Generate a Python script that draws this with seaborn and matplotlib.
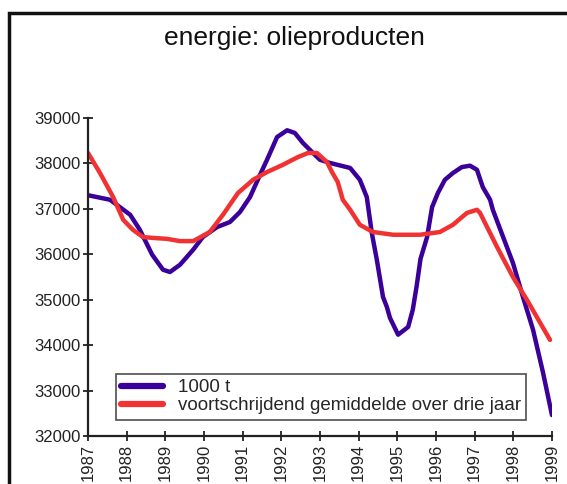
import seaborn as sns
import matplotlib.pyplot as plt
import pandas as pd
from matplotlib.patches import Rectangle

blue_year = [1987.00, 1987.57, 1988.09, 1988.34, 1988.66, 1988.94, 1989.12, 1989.38,
             1989.72, 1989.97, 1990.34, 1990.67, 1990.93, 1991.19, 1991.45, 1991.63,
             1991.89, 1992.15, 1992.35, 1992.56, 1992.82, 1993.00, 1993.26, 1993.78,
             1994.03, 1994.21, 1994.34, 1994.47, 1994.63, 1994.73, 1994.81, 1995.02,
             1995.28, 1995.40, 1995.50, 1995.60, 1995.77, 1995.90, 1996.05, 1996.23,
             1996.44, 1996.67, 1996.88, 1997.06, 1997.21, 1997.40, 1997.47, 1997.99,
             1998.25, 1998.51, 1998.77, 1999.00]
blue_val = [37300, 37200, 36870, 36540, 35990, 35660, 35610, 35770,
            36100, 36380, 36600, 36710, 36930, 37260, 37750, 38080,
            38580, 38730, 38670, 38450, 38230, 38080, 38010, 37900,
            37640, 37260, 36470, 35880, 35060, 34840, 34600, 34230,
            34400, 34780, 35300, 35900, 36380, 37040, 37350, 37640,
            37790, 37920, 37950, 37860, 37480, 37200, 36980, 35810,
            35060, 34340, 33390, 32460]

# voortschrijdend gemiddelde over drie jaar
red_year = [1987.00, 1987.31, 1987.65, 1987.91, 1988.16, 1988.42, 1988.68, 1989.04,
            1989.38, 1989.72, 1990.15, 1990.49, 1990.88, 1991.27, 1991.63, 1992.04,
            1992.43, 1992.69, 1992.92, 1993.18, 1993.31, 1993.46, 1993.59, 1993.78,
            1994.03, 1994.37, 1994.89, 1995.59, 1996.10, 1996.44, 1996.80, 1997.06,
            1997.14, 1997.58, 1997.99, 1998.35, 1998.95]
red_val = [38230, 37790, 37260, 36760, 36540, 36380, 36360, 36340,
           36290, 36290, 36490, 36870, 37350, 37640, 37810, 37970,
           38140, 38230, 38230, 38030, 37810, 37590, 37200, 36980,
           36650, 36490, 36430, 36430, 36490, 36650, 36910, 36980,
           36910, 36160, 35500, 35000, 34115]

years = list(range(1987, 2000))
y_ticks = list(range(32000, 40000, 1000))

lbl_blue = "1000 t"
lbl_red = "voortschrijdend gemiddelde over drie jaar"

df = pd.concat([
    pd.DataFrame({"jaar": blue_year, "waarde": blue_val, "reeks": lbl_blue}),
    pd.DataFrame({"jaar": red_year, "waarde": red_val, "reeks": lbl_red}),
])

sns.set_style("ticks")
plt.rcParams["font.family"] = ["Liberation Sans", "DejaVu Sans"]

fig = plt.figure(figsize=(5.67, 4.84), dpi=100)
ax = fig.add_axes([0.1552, 0.0992, 0.8183, 0.657])

sns.lineplot(data=df, x="jaar", y="waarde", hue="reeks", sort=False,
             palette={lbl_blue: "#3a0099", lbl_red: "#f03232"},
             linewidth=3.2, ax=ax)

ax.set_xlim(1987, 1999)
ax.set_ylim(32000, 39000)
ax.set_xticks(years)
ax.set_xticklabels([str(y) for y in years], rotation=90)
ax.set_yticks(y_ticks)
ax.set_xlabel("")
ax.set_ylabel("")
ax.tick_params(direction="inout", length=7, width=1.3, labelsize=12,
               colors="#222222", pad=2)
for side in ("top", "right"):
    ax.spines[side].set_visible(False)
for side in ("left", "bottom"):
    ax.spines[side].set_linewidth(1.6)
    ax.spines[side].set_color("#222222")
    ax.spines[side].set_clip_on(False)

leg = ax.legend(loc="lower left", bbox_to_anchor=(0.06, 0.05), borderaxespad=0,
                fontsize=13.5, frameon=True, fancybox=False, handlelength=2.2,
                handletextpad=0.8, borderpad=0.3, labelspacing=0.05)
leg.get_frame().set_edgecolor("#222222")
leg.get_frame().set_linewidth(1.2)
for line in leg.get_lines():
    line.set_linewidth(4.5)

fig.text(0.52, 0.921, "energie: olieproducten", ha="center", va="center",
         fontsize=19, color="#111111")

# kader rond de figuur
fig.patches.append(Rectangle((8.5 / 567, -0.1), 1.2, 1.1 - 13 / 484,
                             transform=fig.transFigure, fill=False,
                             edgecolor="#111111", linewidth=2.5))

fig.savefig("out.png", dpi=100)
